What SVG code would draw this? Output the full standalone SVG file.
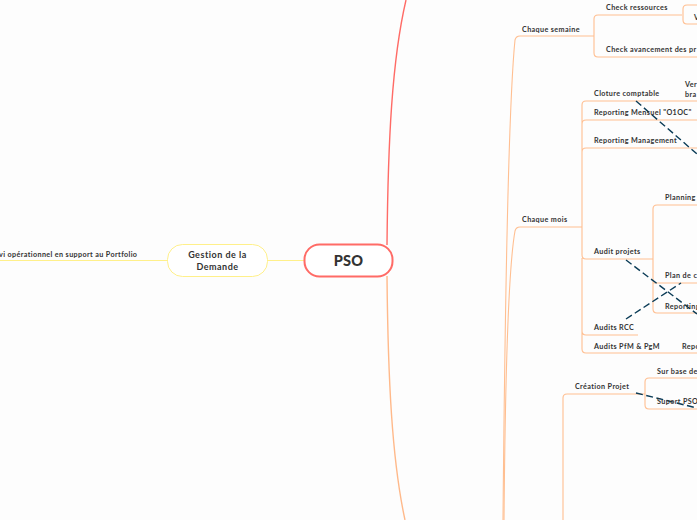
<svg xmlns="http://www.w3.org/2000/svg" width="697" height="520" viewBox="0 0 697 520">
<style>
text{font-family:"Lato","Liberation Sans",sans-serif;font-weight:700;fill:#333;font-size:7.2px;letter-spacing:.38px}
.o{fill:none;stroke:#ffbf91;stroke-width:1.1}
.d{fill:none;stroke:#0b3c57;stroke-width:1.4;stroke-dasharray:7 3.500}
</style>
<rect width="697" height="520" fill="#fdfdfd"/>
<g id="connectors">
<path d="M387 245C388 140 392 60 406 0" fill="none" stroke="#ff6b66" stroke-width="1.4"/>
<path d="M387 276C388 380 392 460 405 520" fill="none" stroke="#ffb98a" stroke-width="1.4"/>
<path d="M268 260.500H304" fill="none" stroke="#fff08a" stroke-width="1.2"/>
<path d="M0 260.500H167" fill="none" stroke="#fff08a" stroke-width="1.2"/>
<path class="o" d="M503 520C505 300 508 110 515 40Q516 36 520 36H594"/>
<path class="o" d="M504 520C505 400 508 270 515 231Q516 227 520 227H582"/>
<path class="o" d="M594 36V19Q594 15 598 15H682M594 36V53Q594 57 598 57H697"/>
<path class="o" d="M683 15V9Q683 5 687 5H697M683 15V20Q683 24 687 24H697"/>
<path class="o" d="M582 227V105Q582 101 586 101H697M582 124Q582 120 586 120H697M582 152Q582 148 586 148H697M582 227V255Q582 259 586 259H653M582 258V331Q582 335 586 335H638M582 330V349Q582 353 586 353H697"/>
<path class="o" d="M653 259V209Q653 205 657 205H697M653 259V309Q653 313 657 313H697M653 283H697"/>
<path class="o" d="M563 520V398Q563 394 567 394H645M645 394V382Q645 378 649 378H697M645 394V405Q645 409 649 409H697"/>
<path class="d" d="M636 101L697 154"/>
<path class="d" d="M626 260L697 314"/>
<path class="d" d="M626 319L681 283"/>
<path class="d" d="M636 393L697 408"/>
</g>
<g id="n-pso"><rect x="304.500" y="244.500" width="88" height="32" rx="15" fill="#fff" stroke="#ff6b66" stroke-width="2"/><text x="348.500" y="265.500" text-anchor="middle" style="font-size:14.500px;font-weight:900;letter-spacing:.3px">PSO</text></g>
<g id="n-gestion"><rect x="167.500" y="244.500" width="100" height="32" rx="15" fill="#fff" stroke="#fff08a" stroke-width="1"/><text x="217.500" y="258" text-anchor="middle" style="font-size:9px;letter-spacing:.5px">Gestion de la</text><text x="217.500" y="270" text-anchor="middle" style="font-size:9px;letter-spacing:.5px">Demande</text></g>
<g id="n-suivi"><text x="-1" y="256.500">vi opérationnel en support au Portfolio</text></g>
<g id="n-semaine"><text x="522" y="31.500">Chaque semaine</text></g>
<g id="n-ress"><text x="606" y="10">Check ressources</text></g>
<g id="n-v"><text x="694" y="20">V</text></g>
<g id="n-avanc"><text x="606" y="52">Check avancement des pr</text></g>
<g id="n-mois"><text x="522" y="222">Chaque mois</text></g>
<g id="n-clot"><text x="594" y="96">Cloture comptable</text></g>
<g id="n-ver"><text x="685" y="87">Ver</text><text x="685" y="97">bra</text></g>
<g id="n-rm"><text x="594" y="115">Reporting Mensuel "O1OC"</text></g>
<g id="n-rmg"><text x="594" y="143">Reporting Management</text></g>
<g id="n-audit"><text x="594" y="254">Audit projets</text></g>
<g id="n-plan"><text x="665" y="200">Planning</text></g>
<g id="n-plc"><text x="665" y="278">Plan de c</text></g>
<g id="n-rep"><text x="665" y="309">Reporting</text></g>
<g id="n-rcc"><text x="594" y="330">Audits RCC</text></g>
<g id="n-pfm"><text x="594" y="349">Audits PfM &amp; PgM</text></g>
<g id="n-repo"><text x="682" y="349">Repo</text></g>
<g id="n-crea"><text x="575" y="389">Création Projet</text></g>
<g id="n-sur"><text x="657" y="374">Sur base de</text></g>
<g id="n-sup"><text x="657" y="404">Suport PSO</text></g>
</svg>
